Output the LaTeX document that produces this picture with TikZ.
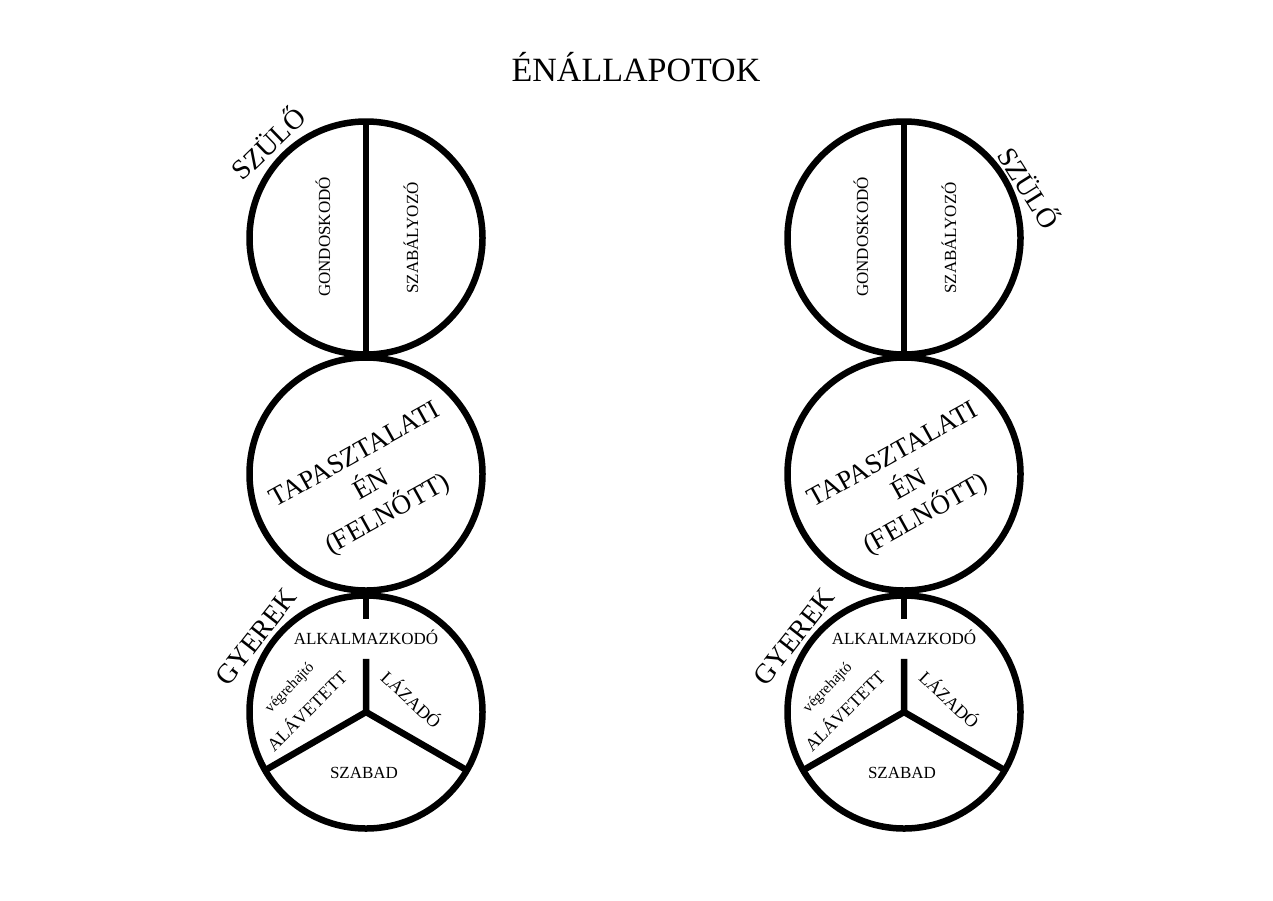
\documentclass[tikz,border=0pt]{standalone}
\usepackage{fontspec}
\setmainfont{Liberation Serif}
\usetikzlibrary{calc}
\newcommand{\betu}[2]{\fontsize{#1}{#2}\selectfont}

\begin{document}
\begin{tikzpicture}[x=1pt, y=-1pt, line width=6.5pt,
	kor/.style={circle, draw, minimum size=233pt, inner sep=0pt, outer sep=0pt},
	kisbetu/.style={font=\betu{17}{20}},
	nagybetu/.style={font=\betu{28}{34}}]

	\useasboundingbox (0,0) rectangle (1273,900);
	\node[font=\betu{34}{40}, anchor=base] (cim) at (636,81) {ÉNÁLLAPOTOK};

	% ket oszlop: bal es jobb
	\foreach \o/\cx in {bal/366, jobb/904}{
		\node[kor] (szulo\o) at (\cx,238) {};
		\node[kor] (felnott\o) at (\cx,474) {};
		\node[kor] (gyerek\o) at (\cx,712) {};

		\draw[line width=5.5pt] (szulo\o.north) -- (szulo\o.south);
		\node[kisbetu, rotate=90] (gond\o) at (\cx-43,237) {GONDOSKODÓ};
		\node[kisbetu, rotate=90] (szab\o) at (\cx+45,238) {SZABÁLYOZÓ};

		\node[font=\betu{27}{34}, rotate=29, align=center] (tap\o) at (\cx+6,486) {TAPASZTALATI\\ÉN\hspace*{34pt}\\(FELNŐTT)};

		\node[kisbetu, inner ysep=8.5pt, text height=13pt, text depth=3pt] (alk\o) at (\cx,639) {ALKALMAZKODÓ};
		\draw (gyerek\o.north) -- (alk\o.north);
		\draw (alk\o.south) -- (gyerek\o.center) -- (gyerek\o.210);
		\draw (gyerek\o.center) -- (gyerek\o.330);
		\node[font=\betu{18}{22}, rotate=-43] (laz\o) at (\cx+46,699) {LÁZADÓ};
		\node[font=\betu{15}{18}, rotate=46] (vegr\o) at (\cx-76,688) {végrehajtó};
		\node[font=\betu{18}{22}, rotate=45] (alav\o) at (\cx-60,710) {ALÁVETETT};
		\node[kisbetu] (szabad\o) at (\cx-2,773) {SZABAD};
		\node[nagybetu, rotate=52] (gyer\o) at (\cx-110,637) {GYEREK};
	}

	\node[nagybetu, rotate=44] (szulocimbal) at (267,142) {SZÜLŐ};
	\node[nagybetu, rotate=-58] (szulocimjobb) at (1030,187) {SZÜLŐ};

\end{tikzpicture}
\end{document}
